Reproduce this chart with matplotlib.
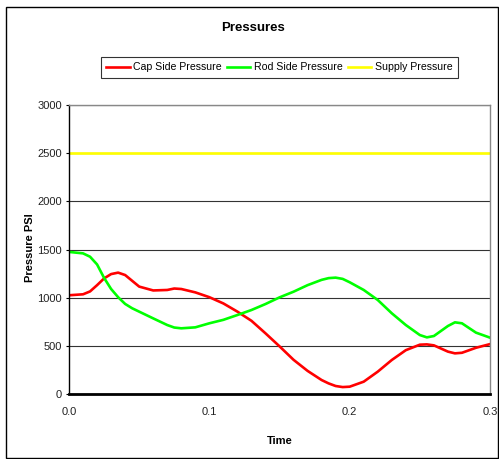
import matplotlib
matplotlib.use("Agg")
from matplotlib import pyplot as plt
from matplotlib.patches import Rectangle

plt.rcParams["font.family"] = ["Liberation Sans", "DejaVu Sans"]

# Data
time = [0.000, 0.010, 0.015, 0.020, 0.025, 0.030, 0.035, 0.040, 0.045, 0.050,
        0.060, 0.070, 0.075, 0.080, 0.090, 0.100, 0.110, 0.120, 0.130, 0.140,
        0.150, 0.160, 0.170, 0.180, 0.185, 0.190, 0.195, 0.200, 0.210, 0.220,
        0.230, 0.240, 0.250, 0.255, 0.260, 0.270, 0.275, 0.280, 0.290, 0.300]
cap_side = [1025, 1035, 1065, 1130, 1200, 1245, 1260, 1235, 1175, 1115,
            1075, 1080, 1095, 1090, 1055, 1005, 940, 855, 760, 630,
            495, 355, 240, 145, 110, 83, 72, 76, 128, 232,
            353, 455, 512, 515, 505, 440, 422, 428, 480, 518]
rod_side = [1475, 1460, 1425, 1345, 1205, 1090, 1005, 935, 890, 855,
            785, 716, 690, 682, 692, 734, 770, 820, 872, 934,
            1003, 1062, 1130, 1185, 1203, 1208, 1195, 1160, 1080, 976,
            838, 716, 612, 588, 602, 706, 744, 734, 637, 585]
supply = [2500] * len(time)

fig = plt.figure(figsize=(4.99, 4.59), dpi=100)
ax = fig.add_axes([0.1383, 0.1416, 0.8437, 0.6296])

l1, = ax.plot(time, cap_side, color="#ff0000", lw=1.9)
l2, = ax.plot(time, rod_side, color="#00ff00", lw=1.9)
l3, = ax.plot(time, supply, color="#ffff00", lw=1.9)

ax.set_xlim(0, 0.3)
ax.set_ylim(0, 3000)
ax.set_xticks([0.0, 0.1, 0.2, 0.3])
ax.set_xticklabels(["0.0", "0.1", "0.2", "0.3"])
ax.set_yticks(range(0, 3001, 500))
ax.yaxis.grid(True, color="#333333", lw=0.8)
ax.set_axisbelow(True)
ax.tick_params(axis="x", length=0, pad=9, labelsize=8, colors="#222222")
ax.tick_params(axis="y", length=2.5, width=0.8, pad=2.5, labelsize=8,
               colors="black", labelcolor="#222222")

for side in ["top", "right"]:
    ax.spines[side].set_color("#888888")
    ax.spines[side].set_linewidth(1.0)
ax.spines["left"].set_color("black")
ax.spines["left"].set_linewidth(1.0)
ax.spines["bottom"].set_color("black")
ax.spines["bottom"].set_linewidth(2.0)

ax.set_xlabel("Time", fontsize=8, fontweight="bold", labelpad=14)
fig.text(0.06, 0.46, "Pressure PSI", rotation=90, ha="center", va="center",
         fontsize=8, fontweight="bold")
fig.text(0.507, 0.939, "Pressures", ha="center", va="center",
         fontsize=9.5, fontweight="bold")

leg = fig.legend([l1, l2, l3],
                 ["Cap Side Pressure", "Rod Side Pressure", "Supply Pressure"],
                 loc="center", bbox_to_anchor=(0.56, 0.853), ncol=3,
                 fontsize=7.6, frameon=True, fancybox=False, edgecolor="black",
                 handlelength=2.2, handletextpad=0.35, columnspacing=0.5,
                 borderpad=0.5, borderaxespad=0)
leg.get_frame().set_linewidth(0.8)

# Outer chart border
fig.patches.append(Rectangle((0.012, 0.002), 0.985, 0.983, fill=False,
                             edgecolor="black", lw=1.0,
                             transform=fig.transFigure, figure=fig))

fig.savefig("out.png", dpi=100)
